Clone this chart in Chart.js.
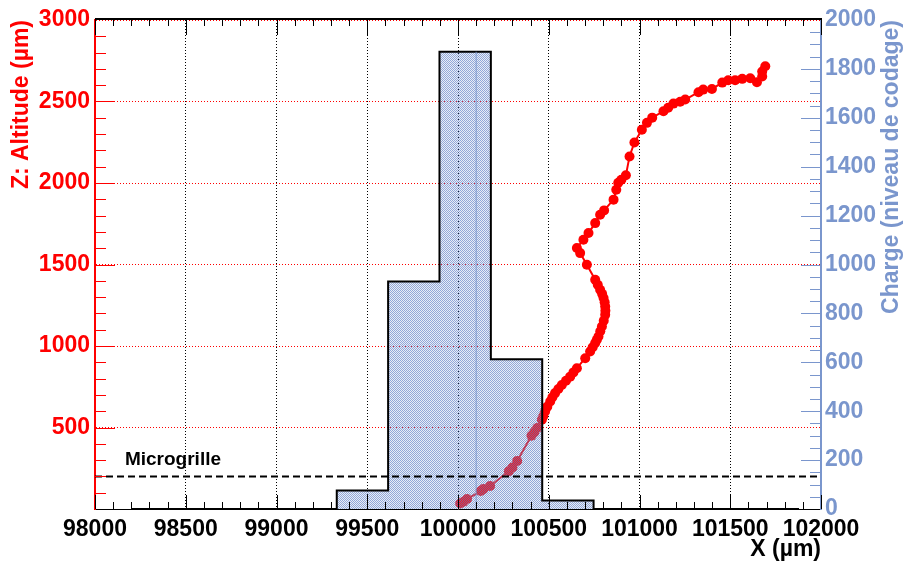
<!DOCTYPE html>
<html lang="fr">
<head>
  <meta charset="UTF-8">
  <title>Trace et charge</title>
  <script src="https://cdn.jsdelivr.net/npm/chart.js@4"></script>
  <style>
    body { margin: 0; background: #fff; }
  </style>
</head>
<body>
<canvas id="myChart" width="903" height="563"></canvas>
<script>
// charge histogram (bin lower edges, last value = upper edge of last bin)
const binEdges = [98200, 98483, 98766, 99049, 99332, 99615, 99898, 100181, 100464, 100747, 101030, 101313, 101596, 101879];
const binCharge = [0, 0, 0, 0, 76, 930, 1870, 612, 35, 0, 0, 0, 0];

// reconstructed track (X, Z in um)
const trackX = [100012, 100030, 100050, 100125, 100140, 100177, 100280, 100300, 100326, 100405, 100420, 100436,
  100462, 100470, 100480, 100492, 100508, 100520, 100535, 100553, 100572, 100595, 100618, 100636, 100655,
  100701, 100728, 100742, 100756, 100765, 100774, 100784, 100793, 100803, 100811, 100812, 100811,
  100808, 100802, 100794, 100783, 100770, 100756, 100710, 100673, 100655, 100691, 100719,
  100756, 100783, 100805, 100857, 100872, 100883, 100900, 100925, 100945, 100972, 101013,
  101041, 101070, 101132, 101158, 101187, 101224, 101252, 101325, 101351, 101399,
  101456, 101489, 101527, 101566, 101610, 101647, 101676, 101676, 101693];
const trackZ = [34, 45, 61, 110, 122, 141, 232, 255, 295, 450, 470, 497,
  547, 570, 598, 628, 659, 686, 711, 736, 761, 787, 812, 838, 864,
  925, 966, 992, 1018, 1038, 1058, 1090, 1120, 1155, 1191, 1216, 1242,
  1268, 1294, 1320, 1345, 1376, 1406, 1498, 1570, 1601, 1652, 1693,
  1754, 1805, 1832, 1898, 1959, 2002, 2020, 2047, 2163, 2249, 2327,
  2369, 2401, 2440, 2462, 2487, 2499, 2512, 2557, 2573, 2577,
  2616, 2630, 2630, 2639, 2643, 2618, 2653, 2684, 2716];

// micromesh level and a marker inside the main bin
const microgrilleZ = 200;
const markerX = 100100;
const markerQ = [0, 1870];

const xTicks = [98000, 98500, 99000, 99500, 100000, 100500, 101000, 101500, 102000];

const RED = '#ff0000';
const BLUE = 'rgb(122,150,205)';
const FONT = "'Liberation Sans', Arial, Helvetica, sans-serif";

// dotted see-through fill, close to ROOT style 3001
const pat = document.createElement('canvas');
pat.width = 2; pat.height = 2;
const pctx = pat.getContext('2d');
pctx.fillStyle = 'rgba(100,130,200,0.7)';
pctx.fillRect(0, 0, 1, 1);
pctx.fillRect(1, 1, 1, 1);
pctx.fillStyle = 'rgba(140,165,215,0.2)';
pctx.fillRect(1, 0, 1, 1);
pctx.fillRect(0, 1, 1, 1);
const ctx0 = document.getElementById('myChart').getContext('2d');
const histFill = ctx0.createPattern(pat, 'repeat');

const histData = binCharge.map((q, i) => ({x: binEdges[i], y: q}));
histData.push({x: binEdges[binEdges.length - 1], y: 0});

const trackData = trackX.map((x, i) => ({x: x, y: trackZ[i]}));

// inward ticks, top frame, right title, label
const frame = {
  id: 'frame',
  afterDraw(chart) {
    const {ctx, chartArea: a, scales} = chart;
    const x = scales.x, y = scales.y, yq = scales.yq;
    const seg = (x1, y1, x2, y2) => { ctx.beginPath(); ctx.moveTo(x1, y1); ctx.lineTo(x2, y2); ctx.stroke(); };
    ctx.save();
    ctx.lineWidth = 1;
    ctx.strokeStyle = '#000';
    for (let v = 98000; v <= 102000; v += 100) {
      const px = Math.round(x.getPixelForValue(v)) + 0.5;
      const major = v % 500 === 0;
      seg(px, a.bottom, px, a.bottom - (major ? 14 : 7));
      seg(px, a.top, px, a.top + (major ? 15 : 6));
    }
    ctx.strokeStyle = RED;
    for (let v = 100; v < 3000; v += 100) {
      const py = Math.round(y.getPixelForValue(v)) + 0.5;
      seg(a.left, py, a.left + (v % 500 === 0 ? 20 : 11), py);
    }
    ctx.strokeStyle = BLUE;
    for (let v = 50; v < 2000; v += 50) {
      const py = Math.round(yq.getPixelForValue(v)) + 0.5;
      seg(a.right, py, a.right - (v % 200 === 0 ? 20 : 11), py);
    }
    ctx.strokeStyle = '#000';
    ctx.lineWidth = 2;
    seg(a.left, a.top - 1, a.right + 1, a.top - 1);

    ctx.fillStyle = BLUE;
    ctx.font = 'bold 23px ' + FONT;
    ctx.translate(892, a.top);
    ctx.rotate(-Math.PI / 2);
    ctx.textAlign = 'right';
    ctx.textBaseline = 'middle';
    ctx.fillText('Charge (niveau de codage)', 0, 0);
    ctx.restore();

    ctx.save();
    ctx.fillStyle = '#000';
    ctx.font = 'bold 19px ' + FONT;
    ctx.textBaseline = 'middle';
    ctx.fillText('Microgrille', x.getPixelForValue(98165), y.getPixelForValue(300));
    ctx.restore();
  }
};

const config = {
  type: 'scatter',
  data: {
    datasets: [{
      type: 'line',
      label: 'Microgrille',
      data: [{x: 98000, y: microgrilleZ}, {x: 102000, y: microgrilleZ}],
      yAxisID: 'y',
      borderColor: '#000',
      borderWidth: 2,
      borderDash: [7, 4],
      pointRadius: 0,
      order: -1
    }, {
      type: 'line',
      label: 'Charge',
      data: histData,
      yAxisID: 'yq',
      stepped: true,
      borderColor: '#000',
      borderWidth: 2,
      backgroundColor: histFill,
      fill: 'origin',
      pointRadius: 0,
      order: 1
    }, {
      type: 'line',
      label: 'marker',
      data: markerQ.map(q => ({x: markerX, y: q})),
      yAxisID: 'yq',
      borderColor: 'rgba(122,150,205,0.9)',
      borderWidth: 1,
      pointRadius: 0,
      order: 0
    }, {
      type: 'line',
      label: 'Trace',
      data: trackData,
      yAxisID: 'y',
      borderColor: RED,
      borderWidth: 2,
      backgroundColor: RED,
      pointBackgroundColor: RED,
      pointBorderWidth: 0,
      pointRadius: 5,
      fill: false,
      order: 5
    }]
  },
  options: {
    responsive: false,
    animation: false,
    events: [],
    layout: { padding: { top: 20, left: 0, right: 0, bottom: 0 } },
    plugins: { legend: { display: false }, tooltip: { enabled: false } },
    scales: {
      x: {
        type: 'linear', position: 'bottom', min: 98000, max: 102000,
        afterBuildTicks: s => { s.ticks = xTicks.map(v => ({value: v})); },
        ticks: { color: '#000', font: { family: FONT, size: 23, weight: 'bold' }, padding: 7, maxRotation: 0, autoSkip: false, callback: v => String(v) },
        grid: { color: '#000', lineWidth: 1, drawTicks: false },
        border: { color: '#000', width: 1, dash: [1, 2] },
        title: { display: true, text: 'X (µm)', align: 'end', color: '#000', font: { family: FONT, size: 23, weight: 'bold' }, padding: { top: 0, bottom: 0 } },
        afterFit: s => { s.height = 54; }
      },
      y: {
        type: 'linear', position: 'left', min: 0, max: 3000,
        ticks: { stepSize: 500, color: RED, font: { family: FONT, size: 23, weight: 'bold' }, padding: 5, callback: v => v === 0 ? '' : String(v) },
        grid: { color: RED, lineWidth: 1, drawTicks: false },
        border: { color: RED, width: 2, dash: [1, 2] },
        title: { display: true, text: 'Z: Altitude (µm)', align: 'end', color: RED, font: { family: FONT, size: 23, weight: 'bold' }, padding: { top: 8, bottom: 0 } },
        afterFit: s => { s.width = 95; }
      },
      yq: {
        type: 'linear', position: 'right', min: 0, max: 2000,
        ticks: { stepSize: 200, color: BLUE, font: { family: FONT, size: 23, weight: 'bold' }, padding: 4, callback: v => String(v) },
        grid: { drawOnChartArea: false, drawTicks: false },
        border: { color: BLUE, width: 2 },
        afterFit: s => { s.width = 82; }
      }
    }
  },
  plugins: [frame]
};

const myChart = new Chart(ctx0, config);
</script>
</body>
</html>
